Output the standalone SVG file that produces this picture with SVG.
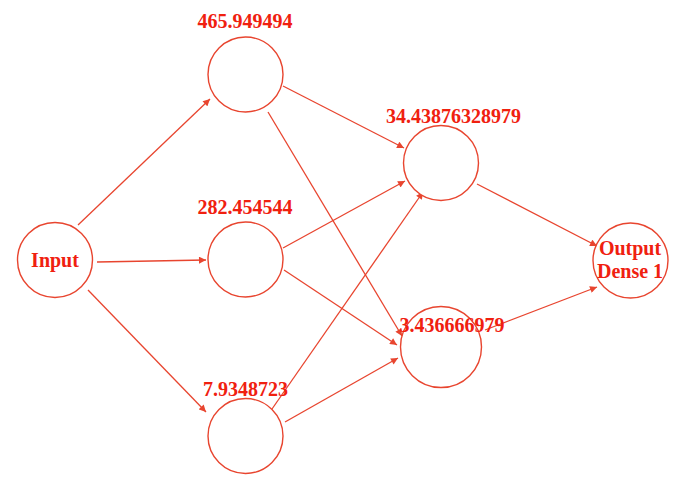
<svg xmlns="http://www.w3.org/2000/svg" width="700" height="484" viewBox="0 0 700 484">
<style>
.n{fill:#fff;stroke:#e8452f;stroke-width:1.4}
.e line{stroke:#e8452f;stroke-width:1.3;marker-end:url(#ah)}
text{font-family:"Liberation Serif","Times New Roman",serif;font-weight:bold;font-size:20px;fill:#f0200f;text-anchor:middle}
</style>
<defs>
<marker id="ah" viewBox="0 0 10 10" refX="10" refY="5" markerWidth="8" markerHeight="7" markerUnits="userSpaceOnUse" orient="auto">
<path d="M0,0 L10,5 L0,10 z" fill="#e8452f"/>
</marker>
</defs>
<rect width="700" height="484" fill="#fff"/>
<g class="e" id="connectors">
<line x1="78" y1="225" x2="210" y2="99"/>
<line x1="97" y1="262" x2="206" y2="260"/>
<line x1="88" y1="290" x2="206" y2="412"/>
<line x1="283" y1="86" x2="404" y2="148"/>
<line x1="268" y1="112" x2="402" y2="336"/>
<line x1="283" y1="248" x2="405" y2="181"/>
<line x1="284" y1="270" x2="397" y2="345"/>
<line x1="272" y1="409" x2="423" y2="192"/>
<line x1="285" y1="422" x2="398" y2="358"/>
<line x1="477" y1="184" x2="597" y2="246"/>
<line x1="485" y1="330" x2="597" y2="287"/>
</g>
<g id="input"><circle class="n" cx="55" cy="260" r="37.5"/><text x="55" y="267">Input</text></g>
<g id="h1a"><circle class="n" cx="245.5" cy="74.5" r="37.5"/><text x="245" y="28">465.949494</text></g>
<g id="h1b"><circle class="n" cx="245.5" cy="259.5" r="37.5"/><text x="245" y="214">282.454544</text></g>
<g id="h1c"><circle class="n" cx="245.5" cy="436" r="37.5"/><text x="245.5" y="396">7.9348723</text></g>
<g id="h2a"><circle class="n" cx="441" cy="163" r="37.5"/><text x="453.5" y="123">34.43876328979</text></g>
<g id="h2b"><circle class="n" cx="441" cy="347" r="40.5"/><text x="452" y="332">3.436666979</text></g>
<g id="output"><circle class="n" cx="630.5" cy="260.5" r="37.5"/><text x="630" y="255">Output</text><text x="630" y="278">Dense 1</text></g>
</svg>
